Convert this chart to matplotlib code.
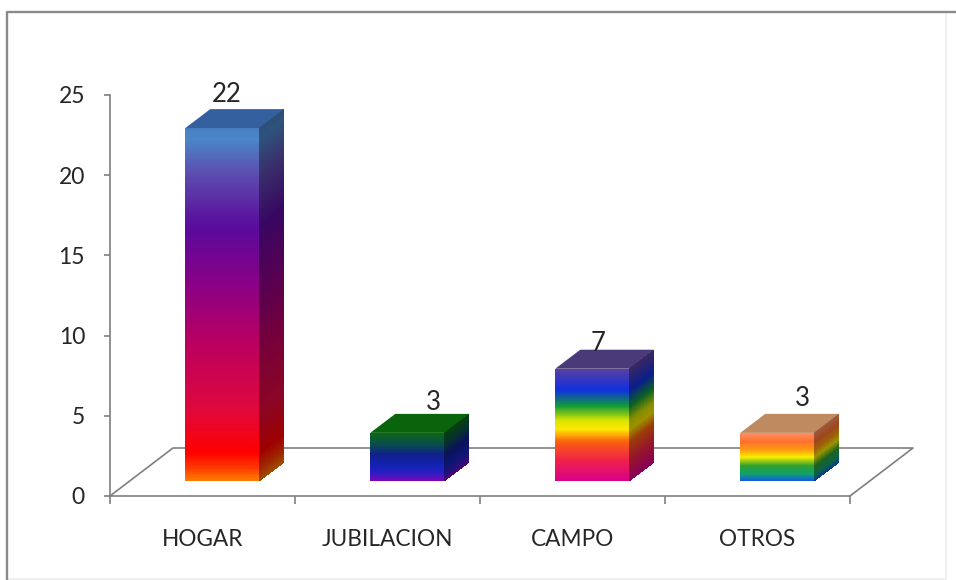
#!/usr/bin/env python3
"""Bar chart drawn with a fake 3D look and rainbow gradients."""

import matplotlib
matplotlib.use("Agg")
import matplotlib.pyplot as plt
import numpy as np
from matplotlib.colors import LinearSegmentedColormap, to_rgb
from matplotlib.patches import Polygon

categories = ["HOGAR", "JUBILACION", "CAMPO", "OTROS"]
values = [22, 3, 7, 3]
y_ticks = [0, 5, 10, 15, 20, 25]

# gradient stops per bar, position 0 is the bottom of the bar
gradients = [
    [(0.0, "#ff8000"), (0.035, "#ff3a00"), (0.08, "#ff0000"), (0.2, "#e0083c"), (0.38, "#bd005e"),
     (0.55, "#8c0084"), (0.72, "#5a0a9c"), (0.87, "#5c4cae"), (0.97, "#4a86c8"), (1.0, "#4a80c0")],
    [(0.0, "#8a00b4"), (0.12, "#3a1ac4"), (0.3, "#1422b8"), (0.55, "#10208c"), (0.75, "#0a4a50"), (1.0, "#0a6a14")],
    [(0.0, "#d8008c"), (0.18, "#f0204a"), (0.35, "#fa6010"), (0.46, "#ffe800"), (0.54, "#d8e400"),
     (0.67, "#109a3a"), (0.81, "#1030e0"), (1.0, "#5a40a0")],
    [(0.0, "#1058e8"), (0.14, "#10a070"), (0.32, "#30a030"), (0.5, "#f8ee00"), (0.65, "#ff9a10"),
     (0.82, "#ff7030"), (1.0, "#ff9060")],
]
top_colors = ["#34609f", "#0a640c", "#4b3a78", "#c08a60"]
label_offsets = [(5, 15), (26, 11), (6, 6), (25, 15)]

LINE = "#7f7f7f"
TEXT = "#262626"
PX_X = 185.0  # pixels per category
PX_Y = 16.04  # pixels per y unit

bar_w = 73.5 / PX_X
bar_shift = 19.5 / PX_X
base = 15 / PX_Y
dx = 25 / PX_X
dy = 19 / PX_Y
floor_dx = 63 / PX_X
floor_dy = 48 / PX_Y


def draw_bar(ax, i, val, stops, top_color):
    x0 = i + bar_shift - bar_w / 2
    x1 = x0 + bar_w
    y = base + np.linspace(0, val, 241)
    frac = (y[:-1] + y[1:]) / 2
    frac = ((frac - base) / val)[:, None]
    cmap = LinearSegmentedColormap.from_list("front", stops, N=512)
    dark = [(p, tuple(0.62 * v for v in to_rgb(c))) for p, c in stops]
    cmap_side = LinearSegmentedColormap.from_list("side", dark, N=512)

    X, Y = np.meshgrid([x0, x1], y)
    ax.pcolormesh(X, Y, frac, cmap=cmap, vmin=0, vmax=1, antialiased=False, zorder=3, clip_on=False)

    Xs = np.column_stack([np.full_like(y, x1), np.full_like(y, x1 + dx)])
    Ys = np.column_stack([y, y + dy])
    ax.pcolormesh(Xs, Ys, frac, cmap=cmap_side, vmin=0, vmax=1, antialiased=False, zorder=3, clip_on=False)

    top = base + val
    ax.add_patch(Polygon([(x0, top), (x1, top), (x1 + dx, top + dy), (x0 + dx, top + dy)],
                         facecolor=top_color, edgecolor="none", zorder=3, clip_on=False))


def main():
    plt.rcParams.update({"font.family": ["Lato", "DejaVu Sans"], "font.size": 15})
    fig = plt.figure(figsize=(9.56, 5.8), dpi=100, facecolor="white")
    ax = fig.add_axes([110 / 956, (580 - 496) / 580, 740 / 956, 401 / 580])
    ax.set_xlim(-0.5, 3.5)
    ax.set_ylim(0, 25)
    ax.patch.set_visible(False)

    for side in ("top", "right"):
        ax.spines[side].set_visible(False)
    for side in ("left", "bottom"):
        ax.spines[side].set_color(LINE)
        ax.spines[side].set_linewidth(1.2)

    # floor of the 3D box
    ax.plot([-0.5, -0.5 + floor_dx, 3.5 + floor_dx, 3.5], [0, floor_dy, floor_dy, 0],
            color=LINE, lw=1.2, clip_on=False, zorder=1)

    for i, (val, stops, top_color, off) in enumerate(zip(values, gradients, top_colors, label_offsets)):
        draw_bar(ax, i, val, stops, top_color)
        ax.annotate(str(val), (i + bar_shift, base + val + dy), xytext=(off[0] * 0.72, off[1] * 0.72),
                    textcoords="offset points", ha="center", va="center", fontsize=18.5, color=TEXT, zorder=4)

    ax.set_yticks(y_ticks)
    ax.tick_params(axis="y", length=4, width=1.2, color=LINE, labelcolor=TEXT, pad=14, labelsize=16.5)
    ax.set_xticks(np.arange(-0.5, 4))
    ax.set_xticklabels([])
    ax.tick_params(axis="x", which="major", length=6, width=1.2, color=LINE)
    ax.set_xticks(np.arange(len(categories)), minor=True)
    ax.set_xticklabels(categories, minor=True)
    ax.tick_params(axis="x", which="minor", length=0, pad=24, labelcolor=TEXT, labelsize=16.3)

    # frame around the chart: strong left and top, faint right and bottom
    frame = {"transform": fig.transFigure, "clip_on": False}
    fig.add_artist(plt.Line2D([7 / 956, 946 / 956, 946 / 956], [1.5 / 580, 1.5 / 580, 568 / 580],
                              color="#eeeeee", lw=1.2, **frame))
    fig.add_artist(plt.Line2D([7 / 956, 7 / 956, 1], [0, 568 / 580, 568 / 580], color="#8a8a8a", lw=1.7, **frame))

    fig.savefig("out.png", dpi=100, facecolor="white")


if __name__ == "__main__":
    main()
